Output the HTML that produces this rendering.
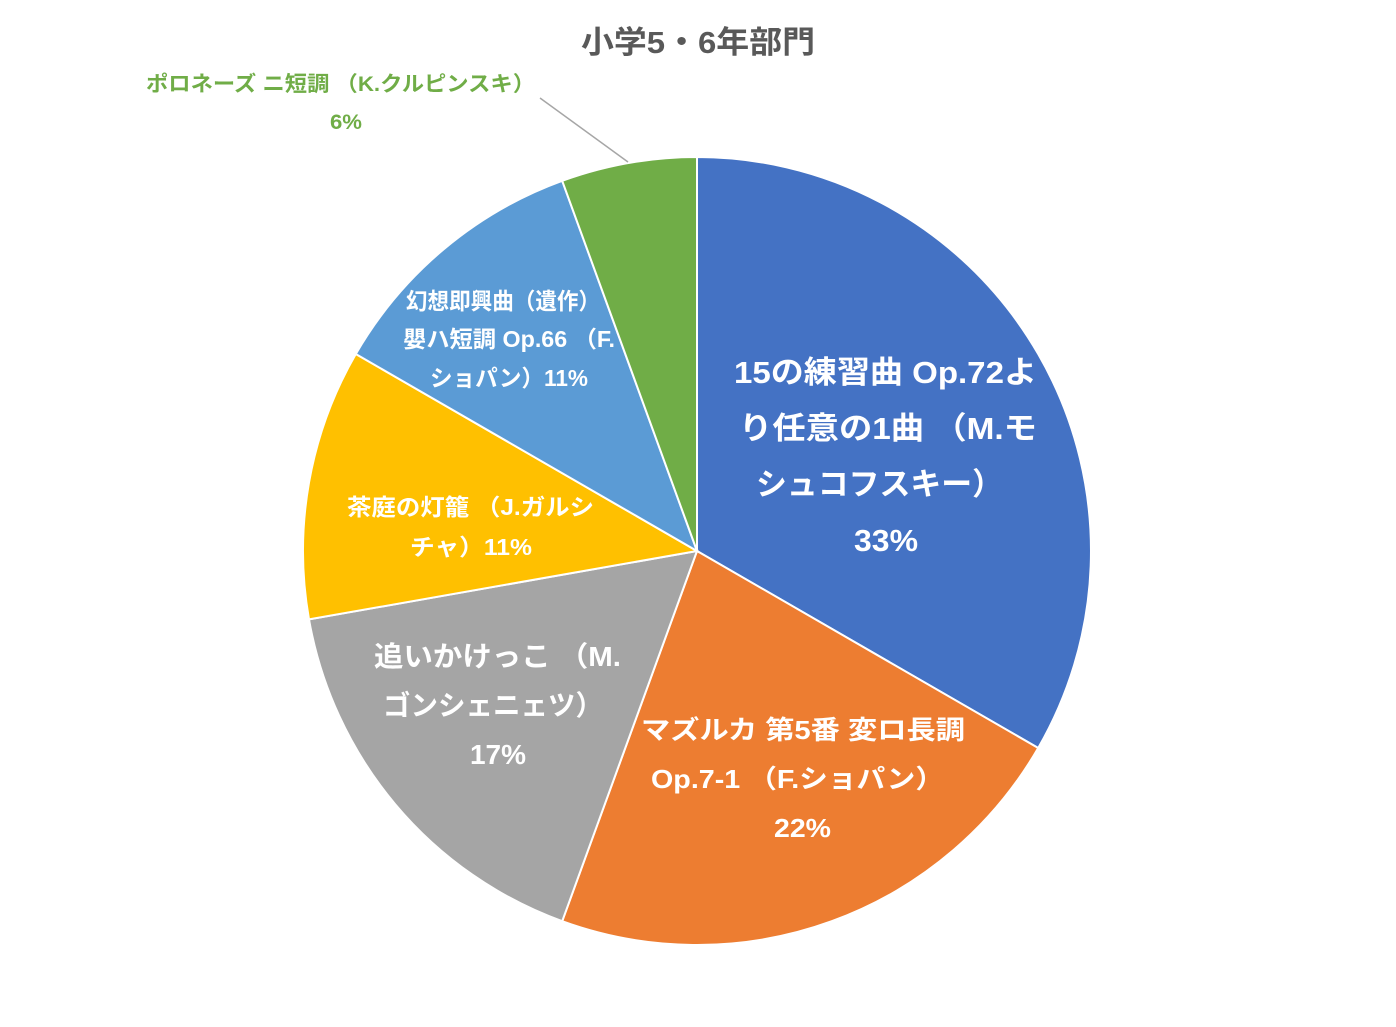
<!DOCTYPE html>
<html><head><meta charset="utf-8">
<style>
html,body{margin:0;padding:0;background:#fff;}
svg{display:block;}
text{font-family:"Liberation Sans","Noto Sans CJK JP",sans-serif;font-weight:bold;}
</style></head>
<body>
<svg width="1396" height="1027" viewBox="0 0 1396 1027" xmlns="http://www.w3.org/2000/svg">
<rect width="1396" height="1027" fill="#fff"/>
<g stroke="#fff" stroke-width="2">
<path d="M697,551 L697,157 A394,394 0 0 1 1038.2,748 Z" fill="#4472C4"/>
<path d="M697,551 L1038.2,748 A394,394 0 0 1 562.2,921.2 Z" fill="#ED7D31"/>
<path d="M697,551 L562.2,921.2 A394,394 0 0 1 309,619.4 Z" fill="#A5A5A5"/>
<path d="M697,551 L309,619.4 A394,394 0 0 1 355.8,354 Z" fill="#FFC000"/>
<path d="M697,551 L355.8,354 A394,394 0 0 1 562.2,180.8 Z" fill="#5B9BD5"/>
<path d="M697,551 L562.2,180.8 A394,394 0 0 1 697,157 Z" fill="#70AD47"/>
</g>
<text x="581" y="53" font-size="31" fill="#595959" textLength="234" lengthAdjust="spacingAndGlyphs">小学5・6年部門</text>
<line x1="540" y1="98" x2="628" y2="162" stroke="#A6A6A6" stroke-width="1.5"/>
<g fill="#70AD47" font-size="21">
<text x="146" y="91" textLength="389" lengthAdjust="spacingAndGlyphs">ポロネーズ ニ短調 （K.クルピンスキ）</text>
<text x="330" y="129" textLength="32" lengthAdjust="spacingAndGlyphs">6%</text>
</g>
<g fill="#fff">
<g font-size="31">
<text x="734" y="383" textLength="303" lengthAdjust="spacingAndGlyphs">15の練習曲 Op.72よ</text>
<text x="739" y="439" textLength="298" lengthAdjust="spacingAndGlyphs">り任意の1曲 （M.モ</text>
<text x="756" y="495" textLength="247" lengthAdjust="spacingAndGlyphs">シュコフスキー）</text>
<text x="854" y="551" textLength="64" lengthAdjust="spacingAndGlyphs">33%</text>
</g>
<g font-size="26">
<text x="641" y="739" textLength="324" lengthAdjust="spacingAndGlyphs">マズルカ 第5番 変ロ長調</text>
<text x="651" y="788" textLength="293" lengthAdjust="spacingAndGlyphs">Op.7-1 （F.ショパン）</text>
<text x="774" y="837" textLength="57" lengthAdjust="spacingAndGlyphs">22%</text>
</g>
<g font-size="28">
<text x="374" y="666" textLength="247" lengthAdjust="spacingAndGlyphs">追いかけっこ （M.</text>
<text x="383" y="715" textLength="220" lengthAdjust="spacingAndGlyphs">ゴンシェニェツ）</text>
<text x="470" y="764" textLength="56" lengthAdjust="spacingAndGlyphs">17%</text>
</g>
<g font-size="23">
<text x="347" y="515" textLength="247" lengthAdjust="spacingAndGlyphs">茶庭の灯籠 （J.ガルシ</text>
<text x="410" y="555" textLength="122" lengthAdjust="spacingAndGlyphs">チャ）11%</text>
<text x="406" y="309" textLength="194" lengthAdjust="spacingAndGlyphs">幻想即興曲（遺作）</text>
<text x="403" y="347" textLength="212" lengthAdjust="spacingAndGlyphs">嬰ハ短調 Op.66 （F.</text>
<text x="430" y="386" textLength="158" lengthAdjust="spacingAndGlyphs">ショパン）11%</text>
</g>
</g>
</svg>
</body></html>
